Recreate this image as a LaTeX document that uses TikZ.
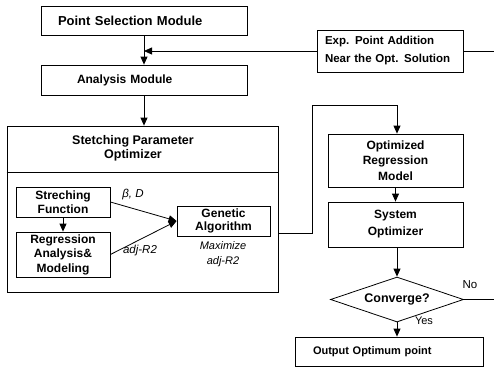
\documentclass[tikz,border=0pt]{standalone}
\usepackage{fontspec}
\setmainfont{Liberation Sans}
\usetikzlibrary{arrows.meta,shapes.geometric}
\begin{document}
\begin{tikzpicture}[x=1pt,y=-1pt,
  box/.style={draw,line width=0.8pt,inner sep=0pt,font=\bfseries\fontsize{12.5}{14}\selectfont},
  arr/.style={-{Triangle[length=8pt,width=7pt]},line width=0.8pt},
  ln/.style={line width=0.8pt},
  lbl/.style={font=\itshape\fontsize{11.5}{13}\selectfont,inner sep=0pt}]
\useasboundingbox (0,0) rectangle (494,367);
% left column
\node[box,minimum width=206pt,minimum height=29pt,text width=172pt,align=left,font=\bfseries\fontsize{13}{15}\selectfont] (ps) at (144,20.5) {Point Selection Module};
\node[box,minimum width=206pt,minimum height=30pt,text width=134pt,align=left,font=\bfseries\fontsize{12}{14}\selectfont] (am) at (144,80) {Analysis Module};
\node[box,minimum width=146pt,minimum height=42pt,text width=130pt,align=left,font=\bfseries\fontsize{11.5}{18}\selectfont] (exp) at (390,51) {Exp. Point Addition\\Near the Opt. Solution};
% stretching optimizer
\node[draw,ln,minimum width=271pt,minimum height=166pt,inner sep=0pt] (big) at (142.5,209) {};
\draw[ln] (big.west |- 0,172) -- (big.east |- 0,172);
\node[font=\bfseries\fontsize{12.5}{13.5}\selectfont,align=center,inner sep=0pt] (hdr) at (133,148.5) {Stetching Parameter\\Optimizer};
\node[box,minimum width=94pt,minimum height=30pt,align=center,font=\bfseries\fontsize{12}{13.5}\selectfont] (sf) at (63,202) {Streching\\Function};
\node[box,minimum width=94pt,minimum height=45pt,align=center,font=\bfseries\fontsize{12}{14.5}\selectfont] (ra) at (63,254.5) {Regression\\Analysis\&\\Modeling};
\node[box,minimum width=93pt,minimum height=30pt,align=center,font=\bfseries\fontsize{12}{13.5}\selectfont] (ga) at (223.5,221) {Genetic\\Algorithm};
\node[lbl] (bd) at (133,195) {β, D};
\node[lbl] (r2) at (140,251) {adj-R2};
\node[lbl,align=center,font=\itshape\fontsize{11}{15}\selectfont] (mx) at (223,254.5) {Maximize\\adj-R2};
% right column
\node[box,minimum width=135pt,minimum height=53pt,align=center,font=\bfseries\fontsize{12}{15.5}\selectfont] (orm) at (395.5,160.5) {Optimized\\Regression\\Model};
\node[box,minimum width=135pt,minimum height=45pt,align=center,font=\bfseries\fontsize{12}{17}\selectfont] (so) at (395.5,224.5) {System\\Optimizer};
\node[diamond,draw,ln,aspect=2.96,minimum width=133pt,minimum height=45pt,inner sep=0pt,font=\bfseries\fontsize{12.5}{14}\selectfont] (dia) at (397,299.5) {Converge?};
\node[box,minimum width=188pt,minimum height=29pt,text width=152pt,align=left,font=\bfseries\fontsize{11}{13}\selectfont] (out) at (389,351.5) {Output Optimum point};
\node[font=\fontsize{11.5}{13}\selectfont,inner sep=0pt] (no) at (470,285) {No};
\node[font=\fontsize{11}{13}\selectfont,inner sep=0pt] (yes) at (424,321) {Yes};
% coordinates
\coordinate (eR) at (494,51);
\coordinate (dR) at (494,299.5);
\coordinate (bR) at (278,233);
\coordinate (k1) at (312,233);
\coordinate (k2) at (312,105);
% connectors
\draw[arr] (ps) -- (am);
\draw[arr] (exp.west) -- (exp.west -| am.north);
\draw[ln] (exp.east) -- (eR);
\draw[arr] (am.south) -- (am.south |- big.north);
\draw[arr] (sf) -- (ra);
\draw[arr] (sf.east) -- (ga.west);
\draw[arr] (ra.east) -- (ga.west);
\draw[arr] (bR) -- (k1) -- (k2) -- (k2 -| dia.north) -- (dia.north |- orm.north);
\draw[arr] (orm) -- (so);
\draw[arr] (so.south -| dia.north) -- (dia.north);
\draw[arr] (dia.south) -- (dia.south |- out.north);
\draw[ln] (dia.east) -- (dR);
\end{tikzpicture}
\end{document}
